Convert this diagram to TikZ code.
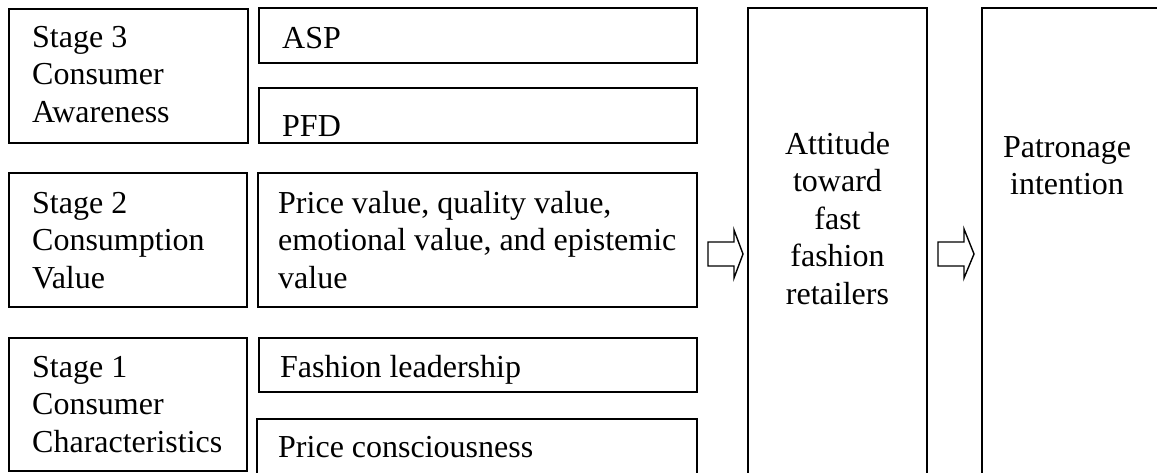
\documentclass[tikz,border=0pt]{standalone}
\usepackage{fontspec}
\setmainfont{Liberation Serif}
\begin{document}
\begin{tikzpicture}[x=1pt,y=-1pt,
  box/.style={draw,line width=1.7pt,inner sep=0pt},
  txt/.style={inner sep=0pt,anchor=north west,align=left,
              font=\fontsize{32}{37.5}\selectfont},
  ctxt/.style={txt,anchor=north,align=center},
  blockarrow/.style={draw,line width=1.4pt,line join=miter,fill=white}]
\useasboundingbox (0,0) rectangle (1157,472);
\clip (0,0) rectangle (1157,472);

% stage boxes (left column)
\node[box,minimum width=239pt,minimum height=134pt] (s3) at (128.5,76) {};
\node[box,minimum width=238pt,minimum height=134pt] (s2) at (128,240) {};
\node[box,minimum width=238pt,minimum height=133pt] (s1) at (128,404.5) {};

% construct boxes (middle column)
\node[box,minimum width=438pt,minimum height=55pt] (asp) at (478,35.5) {};
\node[box,minimum width=438pt,minimum height=55pt] (pfd) at (478,115.5) {};
\node[box,minimum width=439pt,minimum height=134pt] (pv) at (477.5,240) {};
\node[box,minimum width=438pt,minimum height=54pt] (fl) at (478,365) {};
\node[box,minimum width=440pt,minimum height=81pt] (pc) at (477,459.5) {};

% outcome boxes
\node[box,minimum width=179pt,minimum height=492pt] (att) at (837.5,254) {};
\node[box,minimum width=193pt,minimum height=492pt] (pat) at (1078.5,254) {};

% labels (first baseline = y + 26.25)
\node[txt] (s3t) at (32,20.75) {\strut Stage 3\\Consumer\\Awareness};
\node[txt] (s2t) at (32,186.75) {\strut Stage 2\\Consumption\\Value};
\node[txt] (s1t) at (32,350.75) {\strut Stage 1\\Consumer\\Characteristics};
\node[txt] (aspt) at (282,21.75) {\strut ASP};
\node[txt] (pfdt) at (282,109.75) {\strut PFD};
\node[txt] (pvt) at (278,186.75) {\strut Price value, quality value,\\emotional value, and epistemic\\value};
\node[txt] (flt) at (280,350.75) {\strut Fashion leadership};
\node[txt] (pct) at (278,430.75) {\strut Price consciousness};
\node[ctxt] (attt) at (837.5,127.75) {\strut Attitude\\toward\\fast\\fashion\\retailers};
\node[ctxt] (patt) at (1067,130.75) {\strut Patronage\\intention};

% block arrows between the columns
\draw[blockarrow] (708,242) -- (734,242) -- (734,230) -- (743,254)
  -- (734,278) -- (734,266) -- (708,266) -- cycle;
\draw[blockarrow] (938,242) -- (964,242) -- (964,229) -- (974,254)
  -- (964,278) -- (964,266) -- (938,266) -- cycle;
\end{tikzpicture}
\end{document}
